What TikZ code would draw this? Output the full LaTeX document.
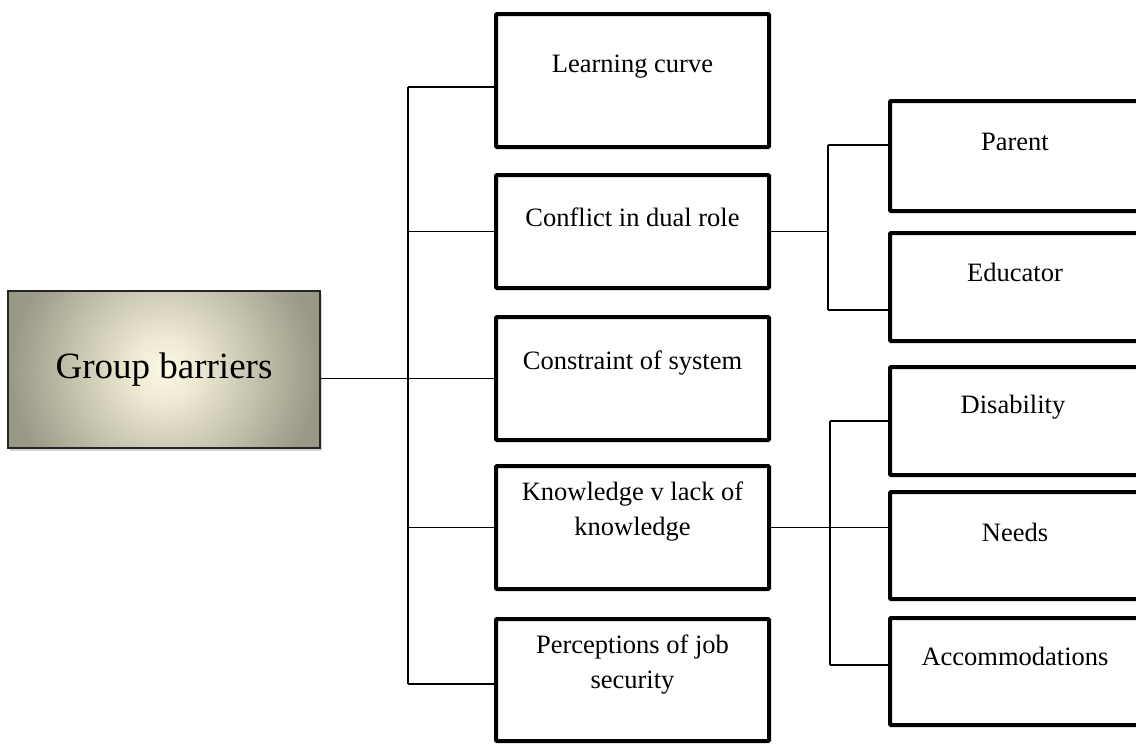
\documentclass[tikz,border=0pt]{standalone}
\usepackage{fontspec}
\setmainfont{Liberation Serif}
\usetikzlibrary{shadows}

\definecolor{rootin}{HTML}{FCF8E4}
\definecolor{rootmid}{HTML}{EEEAD3}
\definecolor{rootout}{HTML}{9A9886}
\pgfdeclareradialshading{rootglow}{\pgfpoint{0bp}{0bp}}{color(0bp)=(rootin); color(5bp)=(rootmid); color(24bp)=(rootout); color(50bp)=(rootout)}

\tikzset{
    item/.style={draw, line width=4pt, rounded corners=1pt, fill=white, inner sep=0pt},
    itemtext/.style={font=\fontsize{26.5}{35}\selectfont, align=center},
    wire/.style={line width=1.3pt}
}

\begin{document}
\begin{tikzpicture}[x=1pt, y=-1pt]
    \useasboundingbox (0,0) rectangle (1136,744);

    % root
    \node [draw=black!85, line width=1.5pt, fill=rootout, minimum width=312pt, minimum height=157pt,
           drop shadow={shadow xshift=2pt, shadow yshift=-3pt, opacity=0.35},
           path picture={\shade [shading=rootglow] (path picture bounding box.center) circle (160pt);}] (root) at (164,369.5) {};
    \node [font=\fontsize{37}{44}\selectfont] (root-t) at (164,370) {Group barriers};

    % middle column
    \node [item, minimum width=273pt, minimum height=133pt] (lc) at (632.5,80.5) {};
    \node [itemtext] (lc-t) at (632.5,67) {Learning curve};
    \node [item, minimum width=273pt, minimum height=113pt] (cd) at (632.5,231.5) {};
    \node [itemtext] (cd-t) at (632.5,217) {Conflict in dual role};
    \node [item, minimum width=273pt, minimum height=123pt] (cs) at (632.5,378.5) {};
    \node [itemtext] (cs-t) at (632.5,363) {Constraint of system};
    \node [item, minimum width=273pt, minimum height=123pt] (kn) at (632.5,527.5) {};
    \node [itemtext] (kn-t) at (632.5,512) {Knowledge v lack of\\knowledge};
    \node [item, minimum width=273pt, minimum height=122pt] (pj) at (632.5,680) {};
    \node [itemtext] (pj-t) at (632.5,665) {Perceptions of job\\security};

    % right column
    \node [item, minimum width=250pt, minimum height=110pt] (pa) at (1015,156) {};
    \node [itemtext] (pa-t) at (1015,142) {Parent};
    \node [item, minimum width=250pt, minimum height=108pt] (ed) at (1015,287) {};
    \node [itemtext] (ed-t) at (1015,272) {Educator};
    \node [item, minimum width=250pt, minimum height=108pt] (di) at (1015,421) {};
    \node [itemtext] (di-t) at (1013,407) {Disability};
    \node [item, minimum width=250pt, minimum height=107pt] (nd) at (1015,545.5) {};
    \node [itemtext] (nd-t) at (1015,532) {Needs};
    \node [item, minimum width=250pt, minimum height=107pt] (ac) at (1015,671.5) {};
    \node [itemtext] (ac-t) at (1015,656) {Accommodations};

    % where the wires meet the boxes
    \coordinate (tr) at (408,0);
    \coordinate (br1) at (828,0);
    \coordinate (br2) at (830,0);
    \coordinate (lc-in) at ([yshift=-6.5pt]lc.west);
    \coordinate (pj-in) at ([yshift=-4pt]pj.west);
    \coordinate (pa-in) at ([yshift=11pt]pa.west);
    \coordinate (ed-in) at ([yshift=-23pt]ed.west);
    \coordinate (ac-in) at ([yshift=6.5pt]ac.west);

    % wires
    \draw [wire] (cs.west) -- (cs.west -| root.east);
    \draw [wire] (tr |- lc-in) -- (tr |- pj-in);
    \foreach \n in {lc-in, cd.west, kn.west, pj-in}
        \draw [wire] (\n) -- (tr |- \n);

    \draw [wire] (cd.east) -- (cd.east -| br1);
    \draw [wire] (br1 |- pa-in) -- (br1 |- ed-in);
    \draw [wire] (pa-in) -- (br1 |- pa-in);
    \draw [wire] (ed-in) -- (br1 |- ed-in);

    \draw [wire] (kn.east) -- (kn.east -| nd.west);
    \draw [wire] (br2 |- di.west) -- (br2 |- ac-in);
    \draw [wire] (di.west) -- (br2 |- di.west);
    \draw [wire] (ac-in) -- (br2 |- ac-in);
\end{tikzpicture}
\end{document}
